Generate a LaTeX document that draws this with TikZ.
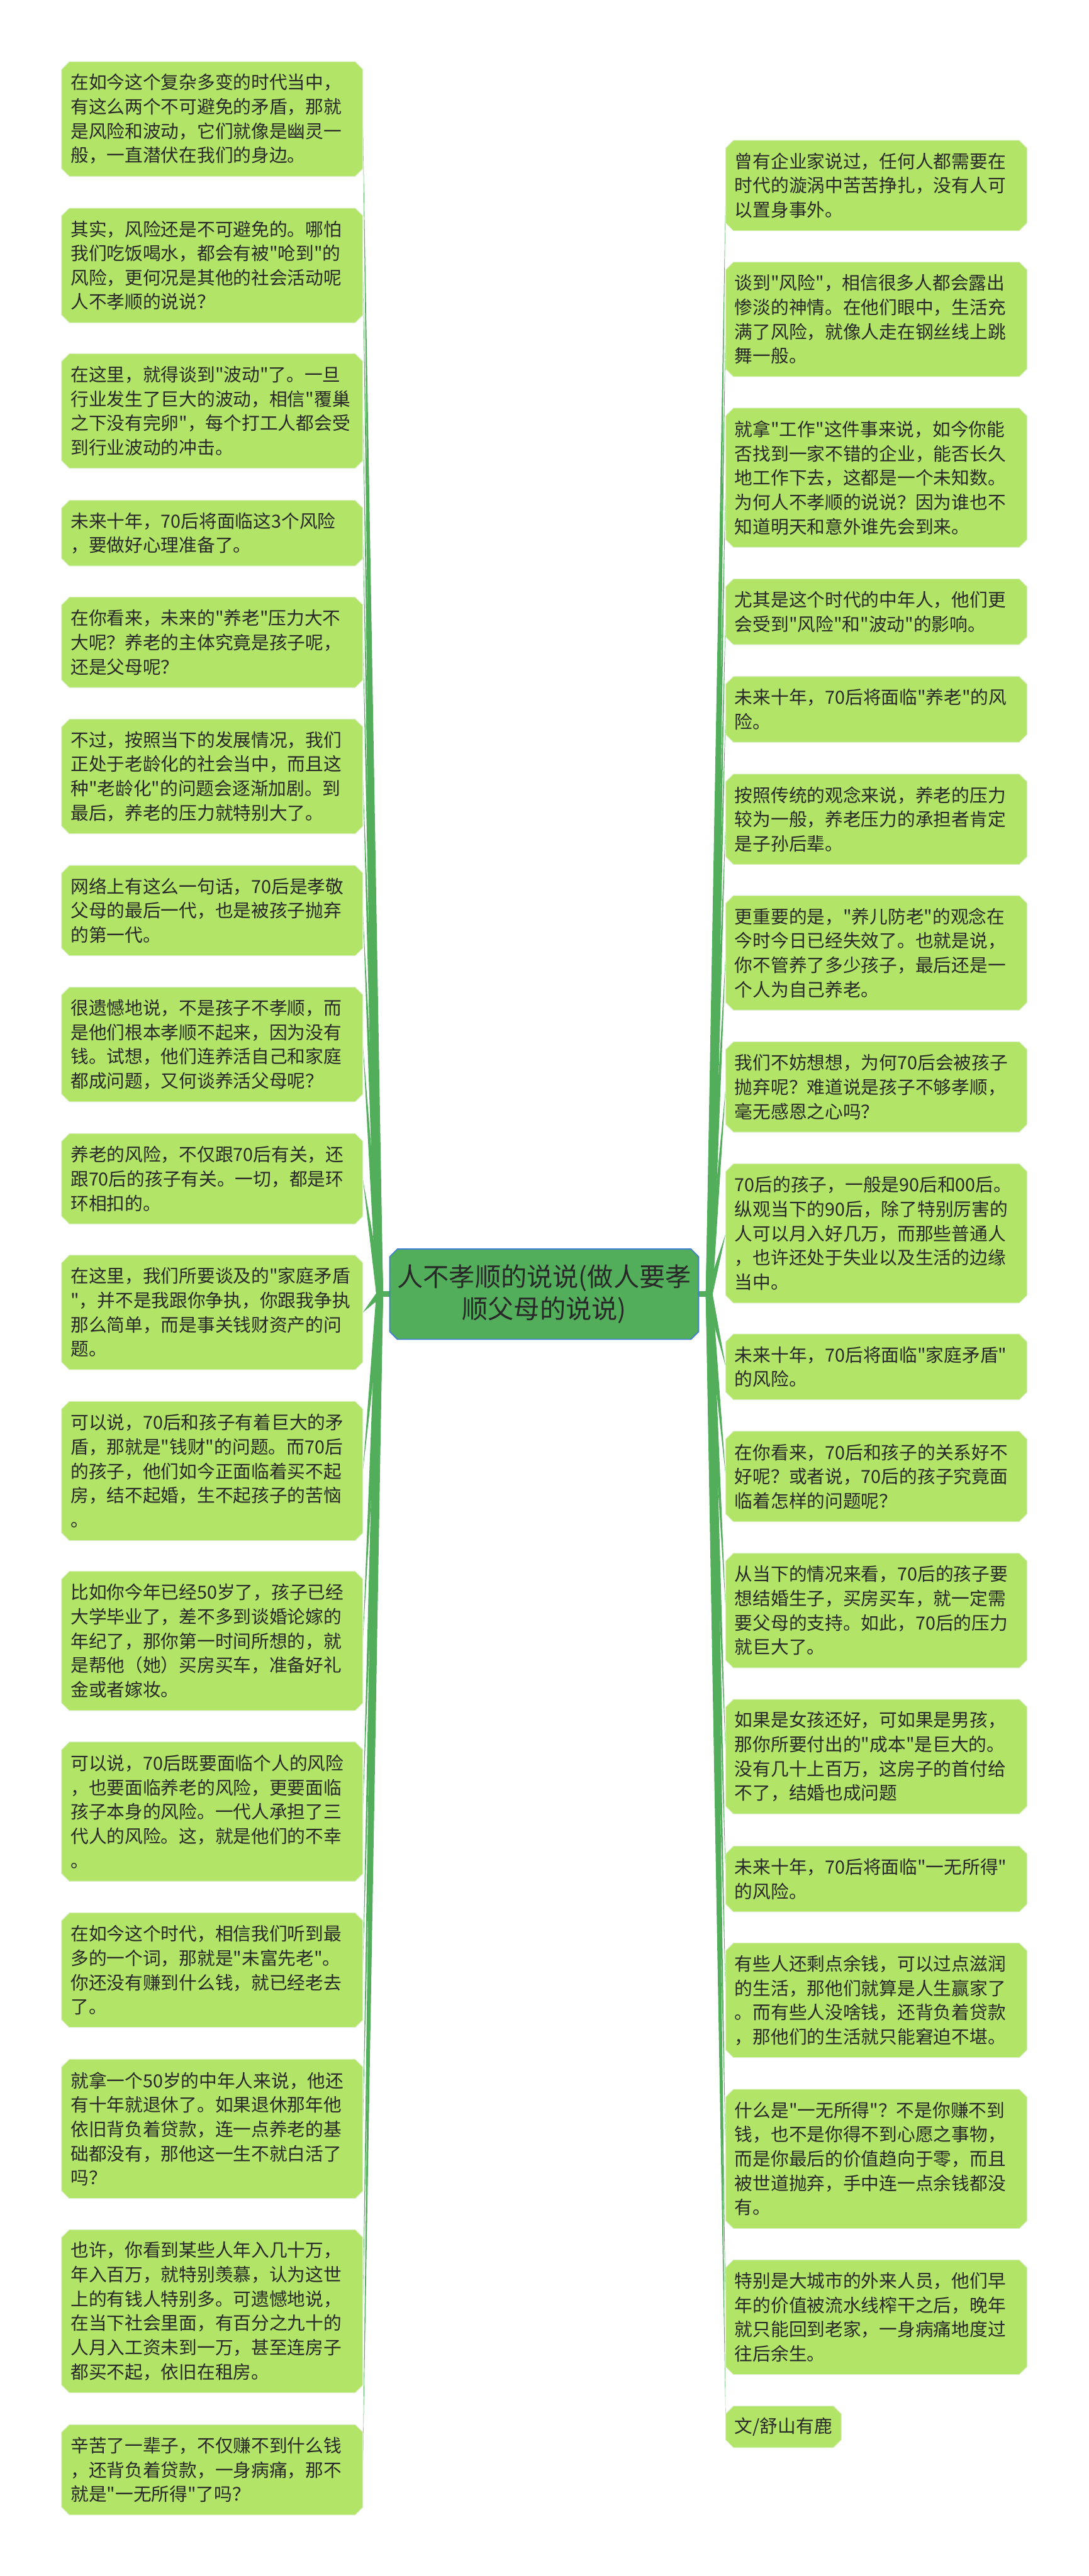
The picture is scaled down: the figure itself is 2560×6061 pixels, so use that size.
\documentclass[tikz,border=0pt]{standalone}
\usepackage{fontspec}
\newfontfamily\cjk{Noto Sans CJK SC}
\usetikzlibrary{calc}
\pgfdeclarelayer{back}
\pgfdeclarelayer{boxes}
\pgfsetlayers{back,boxes,main}
\definecolor{branchgreen}{RGB}{83,174,91}
\definecolor{boxgreen}{RGB}{178,228,103}
\definecolor{boxedge}{RGB}{214,238,190}
\definecolor{centerborder}{RGB}{60,125,215}
\definecolor{textcol}{RGB}{40,40,40}
\newcommand\chamf[2]{\path[#2] ([xshift=18pt]#1.north west) -- ([xshift=-18pt]#1.north east) -- ([yshift=-18pt]#1.north east) -- ([yshift=18pt]#1.south east) -- ([xshift=-18pt]#1.south east) -- ([xshift=18pt]#1.south west) -- ([yshift=18pt]#1.south west) -- ([yshift=-18pt]#1.north west) -- cycle;}
\newcommand\brwedge[2]{\fill[branchgreen] ($(#1)!8pt!90:(#2)$) -- (#2) -- ($(#1)!8pt!-90:(#2)$) -- cycle;}
\tikzset{
  txt/.style={font={\cjk\fontsize{42.5pt}{57.2pt}\selectfont}, text=textcol},
  box/.style={txt, anchor=west, text width=666pt, inner xsep=21pt, inner ysep=0pt, align=left},
  shortbox/.style={txt, anchor=west, inner xsep=21pt, inner ysep=0pt},
  ln1/.style={minimum height=97pt},
  ln2/.style={minimum height=154pt},
  ln3/.style={minimum height=212pt},
  ln4/.style={minimum height=269pt},
  ln5/.style={minimum height=327pt},
  ln6/.style={minimum height=383pt},
  centerbox/.style={font={\cjk\fontsize{61pt}{76pt}\selectfont}, text=textcol, align=center, minimum width=726pt, minimum height=212pt, inner sep=0pt},
  boxfill/.style={fill=boxgreen, draw=boxedge, line width=1.5pt},
  centerfill/.style={fill=branchgreen, draw=centerborder, line width=2.5pt}
}
\begin{document}
\begin{tikzpicture}[x=1pt,y=-1pt]
\useasboundingbox (0,0) rectangle (2560,6061);
\begin{pgfonlayer}{back}
\fill[white] (0,0) rectangle (2560,6061);
\end{pgfonlayer}

\node[centerbox] (center) at (1280,3045) {人不孝顺的说说(做人要孝\\顺父母的说说)};
\coordinate (lroot) at (893,3045);
\coordinate (rroot) at (1668,3045);

% left column
\node[box,ln4] (L1) at (145,280) {在如今这个复杂多变的时代当中，\\有这么两个不可避免的矛盾，那就\\是风险和波动，它们就像是幽灵一\\般，一直潜伏在我们的身边。};
\node[box,ln4] (L2) at (145,624.5) {其实，风险还是不可避免的。哪怕\\我们吃饭喝水，都会有被"呛到"的\\风险，更何况是其他的社会活动呢\\人不孝顺的说说？};
\node[box,ln4] (L3) at (145,967) {在这里，就得谈到"波动"了。一旦\\行业发生了巨大的波动，相信"覆巢\\之下没有完卵"，每个打工人都会受\\到行业波动的冲击。};
\node[box,ln2] (L4) at (145,1254.5) {未来十年，70后将面临这3个风险\\，要做好心理准备了。};
\node[box,ln3] (L5) at (145,1511.5) {在你看来，未来的"养老"压力大不\\大呢？养老的主体究竟是孩子呢，\\还是父母呢？};
\node[box,ln4] (L6) at (145,1827) {不过，按照当下的发展情况，我们\\正处于老龄化的社会当中，而且这\\种"老龄化"的问题会逐渐加剧。到\\最后，养老的压力就特别大了。};
\node[box,ln3] (L7) at (145,2142.5) {网络上有这么一句话，70后是孝敬\\父母的最后一代，也是被孩子抛弃\\的第一代。};
\node[box,ln4] (L8) at (145,2457.5) {很遗憾地说，不是孩子不孝顺，而\\是他们根本孝顺不起来，因为没有\\钱。试想，他们连养活自己和家庭\\都成问题，又何谈养活父母呢？};
\node[box,ln3] (L9) at (145,2773.5) {养老的风险，不仅跟70后有关，还\\跟70后的孩子有关。一切，都是环\\环相扣的。};
\node[box,ln4] (L10) at (145,3088) {在这里，我们所要谈及的"家庭矛盾\\"，并不是我跟你争执，你跟我争执\\那么简单，而是事关钱财资产的问\\题。};
\node[box,ln5] (L11) at (145,3461) {可以说，70后和孩子有着巨大的矛\\盾，那就是"钱财"的问题。而70后\\的孩子，他们如今正面临着买不起\\房，结不起婚，生不起孩子的苦恼\\。};
\node[box,ln5] (L12) at (145,3861) {比如你今年已经50岁了，孩子已经\\大学毕业了，差不多到谈婚论嫁的\\年纪了，那你第一时间所想的，就\\是帮他（她）买房买车，准备好礼\\金或者嫁妆。};
\node[box,ln5] (L13) at (145,4262.5) {可以说，70后既要面临个人的风险\\，也要面临养老的风险，更要面临\\孩子本身的风险。一代人承担了三\\代人的风险。这，就是他们的不幸\\。};
\node[box,ln4] (L14) at (145,4635.5) {在如今这个时代，相信我们听到最\\多的一个词，那就是"未富先老"。\\你还没有赚到什么钱，就已经老去\\了。};
\node[box,ln5] (L15) at (145,5009) {就拿一个50岁的中年人来说，他还\\有十年就退休了。如果退休那年他\\依旧背负着贷款，连一点养老的基\\础都没有，那他这一生不就白活了\\吗？};
\node[box,ln6] (L16) at (145,5438) {也许，你看到某些人年入几十万，\\年入百万，就特别羡慕，认为这世\\上的有钱人特别多。可遗憾地说，\\在当下社会里面，有百分之九十的\\人月入工资未到一万，甚至连房子\\都买不起，依旧在租房。};
\node[box,ln3] (L17) at (145,5811) {辛苦了一辈子，不仅赚不到什么钱\\，还背负着贷款，一身病痛，那不\\就是"一无所得"了吗？};

% right column
\node[box,ln3] (R1) at (1707,436.5) {曾有企业家说过，任何人都需要在\\时代的漩涡中苦苦挣扎，没有人可\\以置身事外。};
\node[box,ln4] (R2) at (1707,751.5) {谈到"风险"，相信很多人都会露出\\惨淡的神情。在他们眼中，生活充\\满了风险，就像人走在钢丝线上跳\\舞一般。};
\node[box,ln5] (R3) at (1707,1124) {就拿"工作"这件事来说，如今你能\\否找到一家不错的企业，能否长久\\地工作下去，这都是一个未知数。\\为何人不孝顺的说说？因为谁也不\\知道明天和意外谁先会到来。};
\node[box,ln2] (R4) at (1707,1439.5) {尤其是这个时代的中年人，他们更\\会受到"风险"和"波动"的影响。};
\node[box,ln2] (R5) at (1707,1669) {未来十年，70后将面临"养老"的风\\险。};
\node[box,ln3] (R6) at (1707,1927.5) {按照传统的观念来说，养老的压力\\较为一般，养老压力的承担者肯定\\是子孙后辈。};
\node[box,ln4] (R7) at (1707,2242) {更重要的是，"养儿防老"的观念在\\今时今日已经失效了。也就是说，\\你不管养了多少孩子，最后还是一\\个人为自己养老。};
\node[box,ln3] (R8) at (1707,2557.5) {我们不妨想想，为何70后会被孩子\\抛弃呢？难道说是孩子不够孝顺，\\毫无感恩之心吗？};
\node[box,ln5] (R9) at (1707,2902) {70后的孩子，一般是90后和00后。\\纵观当下的90后，除了特别厉害的\\人可以月入好几万，而那些普通人\\，也许还处于失业以及生活的边缘\\当中。};
\node[box,ln2] (R10) at (1707,3216) {未来十年，70后将面临"家庭矛盾"\\的风险。};
\node[box,ln3] (R11) at (1707,3474) {在你看来，70后和孩子的关系好不\\好呢？或者说，70后的孩子究竟面\\临着怎样的问题呢？};
\node[box,ln4] (R12) at (1707,3789.5) {从当下的情况来看，70后的孩子要\\想结婚生子，买房买车，就一定需\\要父母的支持。如此，70后的压力\\就巨大了。};
\node[box,ln4] (R13) at (1707,4133) {如果是女孩还好，可如果是男孩，\\那你所要付出的"成本"是巨大的。\\没有几十上百万，这房子的首付给\\不了，结婚也成问题};
\node[box,ln2] (R14) at (1707,4421) {未来十年，70后将面临"一无所得"\\的风险。};
\node[box,ln4] (R15) at (1707,4706.5) {有些人还剩点余钱，可以过点滋润\\的生活，那他们就算是人生赢家了\\。而有些人没啥钱，还背负着贷款\\，那他们的生活就只能窘迫不堪。};
\node[box,ln5] (R16) at (1707,5079.5) {什么是"一无所得"？不是你赚不到\\钱，也不是你得不到心愿之事物，\\而是你最后的价值趋向于零，而且\\被世道抛弃，手中连一点余钱都没\\有。};
\node[box,ln4] (R17) at (1707,5452) {特别是大城市的外来人员，他们早\\年的价值被流水线榨干之后，晚年\\就只能回到老家，一身病痛地度过\\往后余生。};
\node[shortbox,ln1] (R18) at (1707,5710) {文/舒山有鹿};

% box shapes
\begin{pgfonlayer}{boxes}
\chamf{center}{centerfill}
\foreach \n in {L1,L2,L3,L4,L5,L6,L7,L8,L9,L10,L11,L12,L13,L14,L15,L16,L17,R1,R2,R3,R4,R5,R6,R7,R8,R9,R10,R11,R12,R13,R14,R15,R16,R17,R18}{\chamf{\n}{boxfill}}
\end{pgfonlayer}

% branches
\begin{pgfonlayer}{back}
\draw[branchgreen, line width=13pt] (center.west) -- (lroot);
\draw[branchgreen, line width=13pt] (center.east) -- (rroot);
\foreach \n in {L1,L2,L3,L4,L5,L6,L7,L8,L9,L10,L11,L12,L13,L14,L15,L16,L17}{\brwedge{lroot}{\n.east}}
\foreach \n in {R1,R2,R3,R4,R5,R6,R7,R8,R9,R10,R11,R12,R13,R14,R15,R16,R17,R18}{\brwedge{rroot}{\n.west}}
\end{pgfonlayer}
\end{tikzpicture}
\end{document}
